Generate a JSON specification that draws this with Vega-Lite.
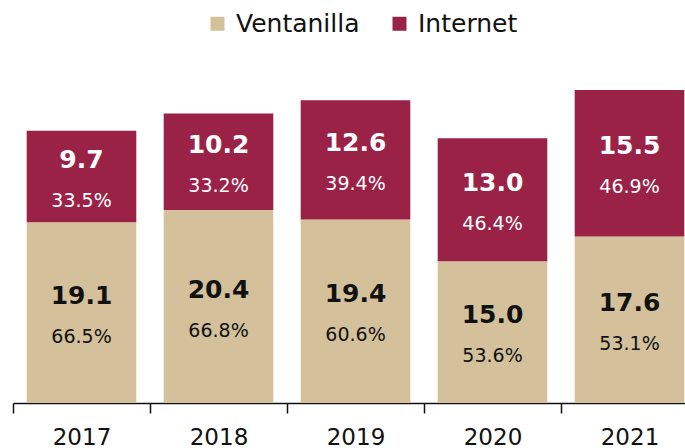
{
  "$schema": "https://vega.github.io/schema/vega-lite/v6.json",
  "autosize": {"type": "none"},
  "width": 685,
  "height": 331,
  "padding": {"left": 13, "top": 72, "right": 0, "bottom": 45},
  "background": "white",
  "config": {
    "view": {"stroke": null},
    "font": "DejaVu Sans"
  },
  "data": {
    "values": [
      {"year": "2017", "serie": "Ventanilla", "value": 19.1, "pct": "66.5%", "ord": 1},
      {"year": "2017", "serie": "Internet", "value": 9.7, "pct": "33.5%", "ord": 2},
      {"year": "2018", "serie": "Ventanilla", "value": 20.4, "pct": "66.8%", "ord": 1},
      {"year": "2018", "serie": "Internet", "value": 10.2, "pct": "33.2%", "ord": 2},
      {"year": "2019", "serie": "Ventanilla", "value": 19.4, "pct": "60.6%", "ord": 1},
      {"year": "2019", "serie": "Internet", "value": 12.6, "pct": "39.4%", "ord": 2},
      {"year": "2020", "serie": "Ventanilla", "value": 15.0, "pct": "53.6%", "ord": 1},
      {"year": "2020", "serie": "Internet", "value": 13.0, "pct": "46.4%", "ord": 2},
      {"year": "2021", "serie": "Ventanilla", "value": 17.6, "pct": "53.1%", "ord": 1},
      {"year": "2021", "serie": "Internet", "value": 15.5, "pct": "46.9%", "ord": 2}
    ]
  },
  "transform": [
    {"stack": "value", "groupby": ["year"], "sort": [{"field": "ord", "order": "ascending"}], "as": ["v0", "v1"]},
    {"calculate": "(datum.v0 + datum.v1) / 2", "as": "mid"},
    {"calculate": "format(datum.value, '.1f')", "as": "lbl"}
  ],
  "encoding": {
    "x": {
      "field": "year",
      "type": "nominal",
      "scale": {"paddingInner": 0, "paddingOuter": 0},
      "axis": {
        "title": null,
        "labelAngle": 0,
        "labelFontSize": 23,
        "labelColor": "#111111",
        "labelPadding": 13,
        "tickBand": "extent",
        "tickSize": 10,
        "tickColor": "#111111",
        "tickWidth": 1.5,
        "domainColor": "#111111",
        "domainWidth": 1.5,
        "grid": false
      }
    }
  },
  "layer": [
    {
      "mark": {"type": "bar", "width": {"band": 0.8}},
      "encoding": {
        "y": {"field": "v0", "type": "quantitative", "scale": {"domain": [0, 35], "nice": false}, "axis": null},
        "y2": {"field": "v1"},
        "color": {
          "field": "serie",
          "type": "nominal",
          "scale": {"domain": ["Ventanilla", "Internet"], "range": ["#D4C19C", "#9B2247"]},
          "legend": {
            "title": null,
            "orient": "none",
            "legendX": 192,
            "legendY": -61,
            "direction": "horizontal",
            "symbolType": "square",
            "symbolSize": 196,
            "symbolStrokeWidth": 0,
            "labelFontSize": 25,
            "labelColor": "#111111",
            "labelOffset": 6,
            "columnPadding": 27
          }
        }
      }
    },
    {
      "mark": {"type": "text", "fontSize": 25, "fontWeight": "bold", "dy": -17, "baseline": "middle"},
      "encoding": {
        "y": {"field": "mid", "type": "quantitative"},
        "text": {"field": "lbl"},
        "color": {
          "condition": {"test": "datum.serie === 'Internet'", "value": "white"},
          "value": "#111111"
        }
      }
    },
    {
      "mark": {"type": "text", "fontSize": 19, "dy": 24, "baseline": "middle"},
      "encoding": {
        "y": {"field": "mid", "type": "quantitative"},
        "text": {"field": "pct"},
        "color": {
          "condition": {"test": "datum.serie === 'Internet'", "value": "white"},
          "value": "#111111"
        }
      }
    }
  ]
}
